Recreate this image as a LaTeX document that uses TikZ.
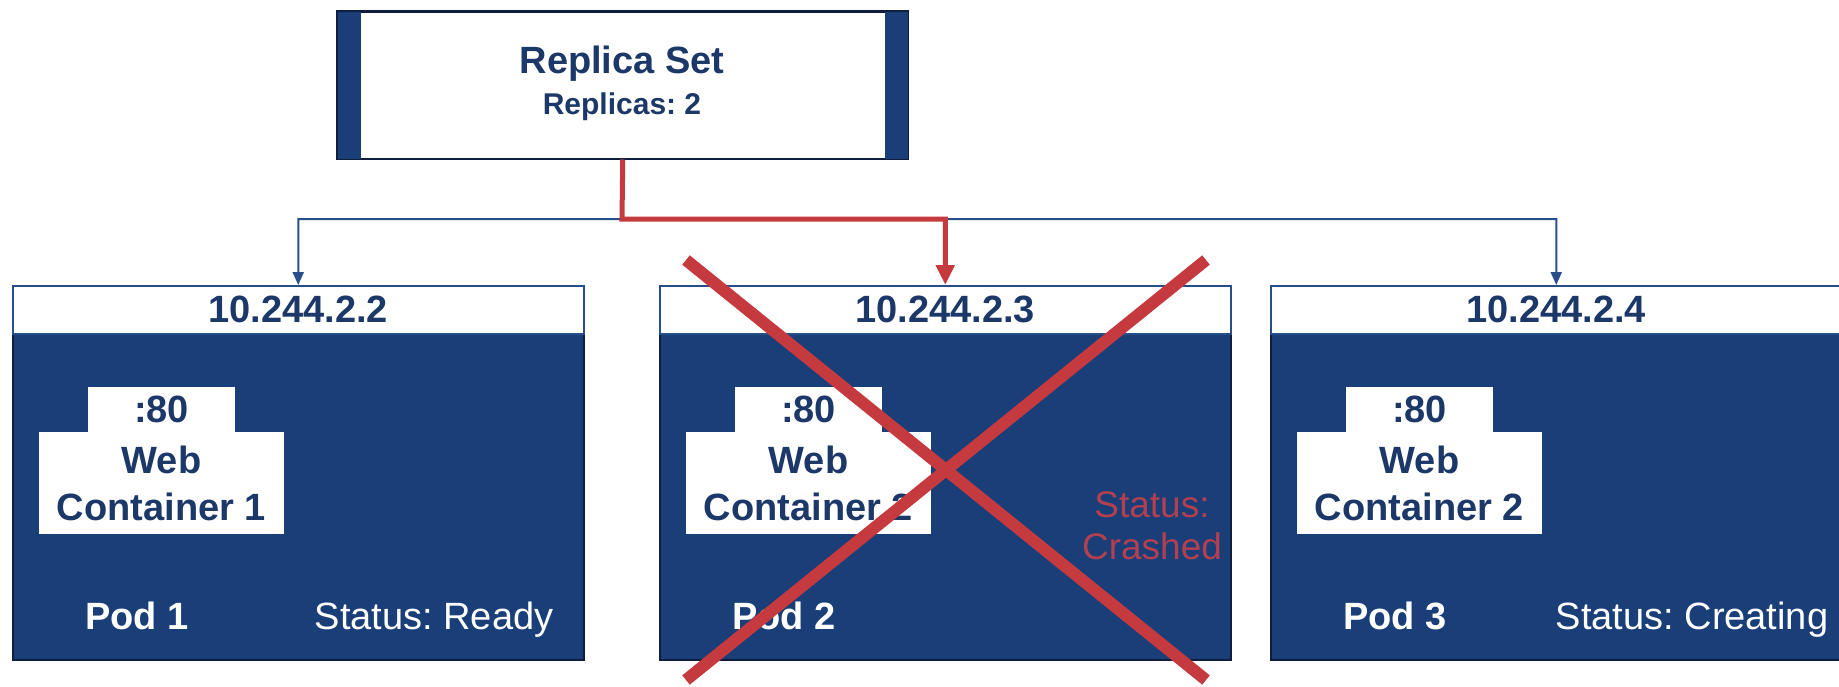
\documentclass[tikz,border=0pt]{standalone}
\usepackage{fontspec}
\setmainfont{Liberation Sans}
\usetikzlibrary{arrows.meta}
\definecolor{navy}{RGB}{25,62,120}
\definecolor{navytext}{RGB}{28,56,104}
\definecolor{linkblue}{RGB}{40,78,138}
\definecolor{xred}{RGB}{196,58,62}
\definecolor{crash}{RGB}{178,64,80}
\definecolor{edgec}{RGB}{15,30,60}
\begin{document}
\frenchspacing
\begin{tikzpicture}[x=1pt,y=-1pt,
  big/.style={font=\fontsize{38}{47}\selectfont\bfseries, text=navytext, inner sep=0pt},
  small/.style={font=\fontsize{30}{36}\selectfont\bfseries, text=navytext, inner sep=0pt},
  podbody/.style={draw=edgec, line width=1.5pt, fill=navy, minimum width=571pt, minimum height=374pt, anchor=north west, inner sep=0pt},
  podhead/.style={draw=linkblue, line width=1.5pt, fill=white, minimum width=571pt, minimum height=48pt, anchor=north west, inner sep=0pt, big},
  portbox/.style={fill=white, minimum width=147pt, minimum height=45pt, inner sep=0pt, big},
  webbox/.style={fill=white, minimum width=245pt, minimum height=102pt, inner sep=0pt, big, align=center},
  podlbl/.style={font=\fontsize{38}{47}\selectfont\bfseries, text=white, anchor=base, inner sep=0pt},
  statlbl/.style={font=\fontsize{38}{47}\selectfont, text=white, anchor=base, inner sep=0pt},
  bluelink/.style={draw=linkblue, line width=2pt, -{Triangle[length=13pt,width=11pt]}},
  redlink/.style={draw=xred, line width=5pt, -{Triangle[length=20pt,width=18pt]}},
  cross/.style={draw=xred, line width=12pt}
]
\useasboundingbox (0,0) rectangle (1839,686);

% Replica set
\node[draw=edgec, line width=1.5pt, fill=white, minimum width=570pt, minimum height=147pt, anchor=north west, inner sep=0pt] (rs) at (337,11) {};
\fill[navy] (rs.north west) rectangle ([xshift=24pt]rs.south west);
\fill[navy] ([xshift=-24pt]rs.north east) rectangle (rs.south east);
\draw[edgec, line width=1.5pt] (rs.north west) rectangle (rs.south east);
\node[big, anchor=base] (rstitle) at (622,73) {Replica Set};
\node[small, anchor=base] (rssub) at (622,114) {Replicas: 2};

% Pods
\foreach \i/\x/\ip/\cn in {1/12/10.244.2.2/1, 2/659/10.244.2.3/2, 3/1270/10.244.2.4/2}{
  \node[podbody] (p\i) at (\x,285) {};
  \node[podhead] (h\i) at (\x,285) {\ip};
  \node[portbox] (port\i) at (\x+149.5,409.5) {:80};
  \node[webbox] (web\i) at (\x+149.5,483) {Web\\Container \cn};
  \node[podlbl] (pl\i) at (\x+125,629) {Pod \i};
}
\node[statlbl] (st1) at (12+422,629) {Status: Ready};
\node[statlbl] (st3) at (1270+422,629) {Status: Creating};
\node[font=\fontsize{37}{42}\selectfont, text=crash, align=center, inner sep=0pt, anchor=base] (st2) at (1152,559) {Status:\\Crashed};

% Connectors
\coordinate (j) at (622,219);
\draw[bluelink] (rs.south) -- (j) -| (h1.north);
\draw[bluelink] (rs.south) -- (j) -| (h3.north);
\draw[redlink] (rs.south) -- (j) -| (h2.north);

% Red cross over pod 2
\coordinate (xa) at (686,260);
\coordinate (xb) at (1206,680);
\coordinate (xc) at (1206,260);
\coordinate (xd) at (686,680);
\draw[cross] (xa) -- (xb);
\draw[cross] (xc) -- (xd);
\end{tikzpicture}
\end{document}
